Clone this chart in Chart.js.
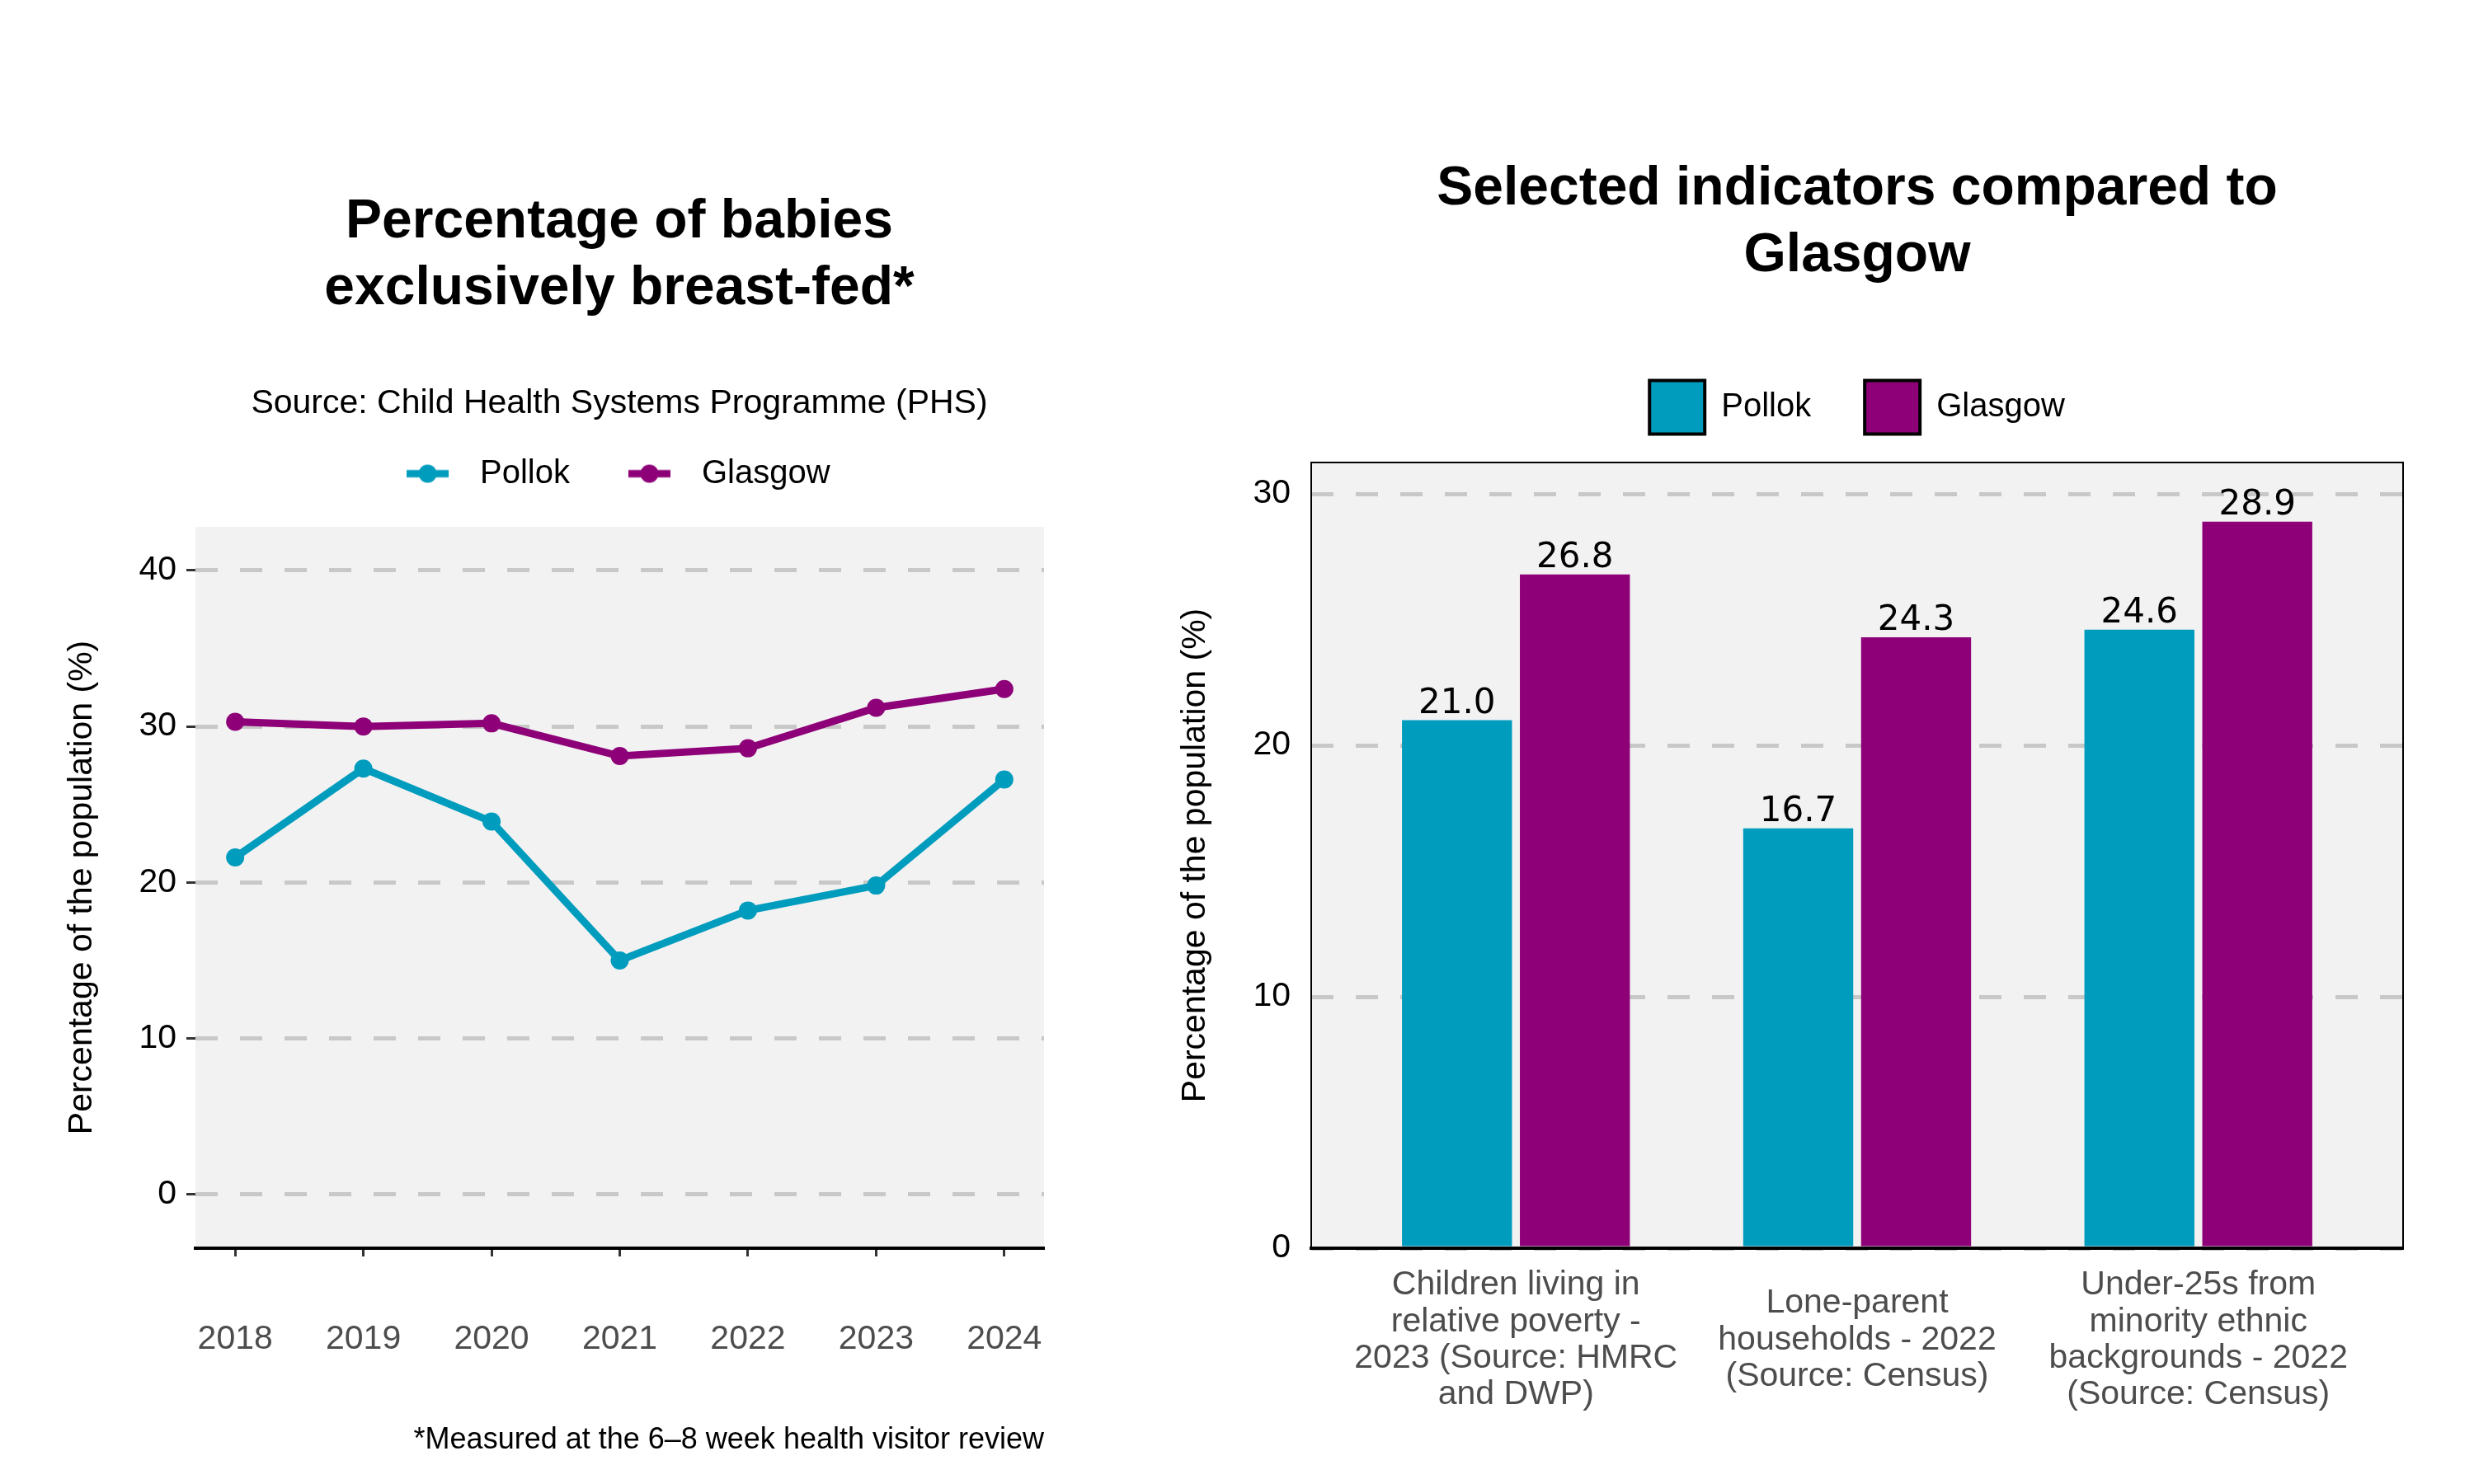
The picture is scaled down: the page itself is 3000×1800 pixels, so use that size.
<!DOCTYPE html>
<html lang="en">
<head>
<meta charset="UTF-8">
<title>Pollok - breast-feeding and selected indicators</title>
<script src="https://cdn.jsdelivr.net/npm/chart.js"></script>
<style>
  html, body { margin: 0; padding: 0; background: #fff; overflow: hidden; }
  body { width: 3000px; height: 1800px; position: relative; }
  canvas { position: absolute; top: 0; }
  #lineChart { left: 0; }
  #barChart { left: 1400px; }
</style>
</head>
<body>
<canvas id="lineChart" width="1502" height="1800"></canvas>
<canvas id="barChart" width="1704" height="1800"></canvas>

<script>
// --- data: breast-feeding line chart ---
const years = [2018, 2019, 2020, 2021, 2022, 2023, 2024];
const pollokFed = [21.6, 27.3, 23.9, 15.0, 18.2, 19.8, 26.6];
const glasgowFed = [30.3, 30.0, 30.2, 28.1, 28.6, 31.2, 32.4];
const fedTicks = [0, 10, 20, 30, 40];

// --- data: indicators bar chart ---
const indicators = [
  ['Children living in', 'relative poverty -', '2023 (Source: HMRC', 'and DWP)'],
  ['Lone-parent', 'households - 2022', '(Source: Census)'],
  ['Under-25s from', 'minority ethnic', 'backgrounds - 2022', '(Source: Census)']
];
const pollokInd = [21.0, 16.7, 24.6];
const glasgowInd = [26.8, 24.3, 28.9];
const indTicks = [0, 10, 20, 30];

const TEAL = '#009CBD';
const PURPLE = '#8E0078';
const GRID = '#c8c8c8';

Chart.defaults.font.family = '"Liberation Sans", Arial, sans-serif';
Chart.defaults.font.size = 41;
Chart.defaults.color = '#000';

// grey panel behind the plot area
const panelBg = {
  id: 'panelBg',
  beforeDraw(chart) {
    const { ctx, chartArea: a } = chart;
    ctx.save();
    ctx.fillStyle = '#f2f2f2';
    ctx.fillRect(a.left, a.top, a.right - a.left, a.bottom - a.top);
    ctx.restore();
  }
};

// empty axis used only to reserve space
function spacer(position, size) {
  return {
    type: 'linear',
    position: position,
    grid: { display: false, drawTicks: false },
    border: { display: false },
    ticks: { display: false },
    afterFit: s => { if (s.isHorizontal()) s.height = size; else s.width = size; }
  };
}

// legend key: short line with a dot in the middle
function lineMarker(color) {
  const c = document.createElement('canvas');
  c.width = 100;
  c.height = 26;
  const g = c.getContext('2d');
  g.strokeStyle = color;
  g.lineWidth = 9;
  g.beginPath();
  g.moveTo(31, 13);
  g.lineTo(82, 13);
  g.stroke();
  g.fillStyle = color;
  g.beginPath();
  g.arc(56.5, 13, 11, 0, Math.PI * 2);
  g.fill();
  return c;
}
const legendMarkers = [lineMarker(TEAL), lineMarker(PURPLE)];

// ---------------- left chart ----------------
new Chart(document.getElementById('lineChart'), {
  type: 'line',
  data: {
    datasets: [
      {
        label: 'Pollok',
        data: years.map((yr, i) => ({ x: yr, y: pollokFed[i] })),
        borderColor: TEAL,
        backgroundColor: TEAL,
        borderWidth: 9,
        pointRadius: 11,
        pointBorderWidth: 0,
        pointBackgroundColor: TEAL,
        tension: 0,
        xAxisID: 'x',
        yAxisID: 'y'
      },
      {
        label: 'Glasgow',
        data: years.map((yr, i) => ({ x: yr, y: glasgowFed[i] })),
        borderColor: PURPLE,
        backgroundColor: PURPLE,
        borderWidth: 9,
        pointRadius: 11,
        pointBorderWidth: 0,
        pointBackgroundColor: PURPLE,
        tension: 0,
        xAxisID: 'x',
        yAxisID: 'y'
      }
    ]
  },
  options: {
    responsive: false,
    devicePixelRatio: 1,
    animation: false,
    layout: { padding: 0, autoPadding: false },
    scales: {
      x: {
        type: 'linear',
        position: 'bottom',
        offset: false,
        min: 2017.69,
        max: 2024.31,
        afterBuildTicks: s => { s.ticks = years.map(v => ({ value: v })); },
        afterFit: s => { s.height = 286; },
        grid: { display: true, drawOnChartArea: false, drawTicks: true, tickLength: 10, tickWidth: 3, tickColor: '#333' },
        border: { display: true, color: '#000', width: 4 },
        ticks: { padding: 76, color: '#4d4d4d', font: { size: 41 }, callback: v => String(v) },
        title: {
          display: true,
          text: '*Measured at the 6\u20138 week health visitor review',
          align: 'end',
          color: '#000',
          font: { size: 36 },
          padding: { top: 0, bottom: 31 }
        }
      },
      y: {
        type: 'linear',
        position: 'left',
        min: -3.45,
        max: 42.8,
        afterBuildTicks: s => { s.ticks = fedTicks.map(v => ({ value: v })); },
        afterFit: s => { s.width = 237; },
        grid: { color: GRID, lineWidth: 5, drawTicks: true, tickLength: 11, tickWidth: 3, tickColor: '#333', tickBorderDash: [] },
        border: { display: false, dash: [27, 27] },
        ticks: { padding: 12, color: '#000', font: { size: 41 } },
        title: {
          display: true,
          text: 'Percentage of the population (%)',
          color: '#000',
          font: { size: 41 },
          padding: { top: 75, bottom: 0 }
        }
      },
      xs: spacer('top', 34.4),
      ys: spacer('right', 236)
    },
    plugins: {
      title: {
        display: true,
        text: ['Percentage of babies', 'exclusively breast-fed*'],
        color: '#000',
        font: { size: 66, weight: 'bold', lineHeight: 1.23 },
        padding: { top: 229.5, bottom: 0 }
      },
      subtitle: {
        display: true,
        text: 'Source: Child Health Systems Programme (PHS)',
        color: '#000',
        font: { size: 41, lineHeight: 1.2 },
        padding: { top: 73.5, bottom: 0 }
      },
      legend: {
        display: true,
        position: 'top',
        align: 'center',
        labels: {
          usePointStyle: true,
          pointStyleWidth: 100,
          padding: 40,
          color: '#000',
          font: { size: 40 },
          // trailing spaces on the last label balance the blank lead-in of the first key
          generateLabels: chart => chart.data.datasets.map((ds, i, all) => ({
            text: i === all.length - 1 ? ds.label + '   ' : ds.label,
            pointStyle: legendMarkers[i],
            fillStyle: ds.borderColor,
            strokeStyle: ds.borderColor,
            lineWidth: 0,
            hidden: false,
            datasetIndex: i,
            fontColor: '#000'
          }))
        }
      },
      tooltip: { enabled: false }
    }
  },
  plugins: [panelBg]
});

// ---------------- right chart ----------------
const barValues = {
  id: 'barValues',
  afterDatasetsDraw(chart) {
    const { ctx, chartArea: a } = chart;
    ctx.save();
    ctx.font = '42px "DejaVu Sans"';
    ctx.fillStyle = '#000';
    ctx.textAlign = 'center';
    ctx.textBaseline = 'alphabetic';
    chart.data.datasets.forEach((ds, di) => {
      chart.getDatasetMeta(di).data.forEach((bar, i) => {
        ctx.fillText(ds.data[i].y.toFixed(1), bar.x, bar.y - 9);
      });
    });
    // panel frame
    ctx.strokeStyle = '#000';
    ctx.lineWidth = 2;
    ctx.strokeRect(a.left, a.top, a.right - a.left, a.bottom - a.top);
    ctx.restore();
  }
};

new Chart(document.getElementById('barChart'), {
  type: 'bar',
  data: {
    datasets: [
      {
        label: 'Pollok',
        data: pollokInd.map((v, i) => ({ x: i, y: v })),
        backgroundColor: TEAL,
        borderWidth: 0,
        categoryPercentage: 0.691,
        barPercentage: 0.933,
        xAxisID: 'x',
        yAxisID: 'y'
      },
      {
        label: 'Glasgow',
        data: glasgowInd.map((v, i) => ({ x: i, y: v })),
        backgroundColor: PURPLE,
        borderWidth: 0,
        categoryPercentage: 0.691,
        barPercentage: 0.933,
        xAxisID: 'x',
        yAxisID: 'y'
      }
    ]
  },
  options: {
    responsive: false,
    devicePixelRatio: 1,
    animation: false,
    layout: { padding: 0, autoPadding: false },
    scales: {
      x: {
        type: 'linear',
        position: 'bottom',
        offset: false,
        min: -0.6,
        max: 2.6,
        afterBuildTicks: s => { s.ticks = indicators.map((_, i) => ({ value: i })); },
        afterFit: s => { s.height = 286; },
        grid: { display: false, drawTicks: false, offset: false },
        border: { display: true, color: '#000', width: 4, z: 1 },
        ticks: {
          padding: 45,
          color: '#4d4d4d',
          crossAlign: 'center',
          font: { size: 41, lineHeight: 1.08 },
          callback: v => indicators[v]
        }
      },
      y: {
        type: 'linear',
        position: 'left',
        min: 0,
        max: 31.25,
        afterBuildTicks: s => { s.ticks = indTicks.map(v => ({ value: v })); },
        afterFit: s => { s.width = 190; },
        grid: { color: GRID, lineWidth: 5, drawTicks: false },
        border: { display: false, dash: [27, 27] },
        ticks: { padding: 25, color: '#000', font: { size: 41 } },
        title: {
          display: true,
          text: 'Percentage of the population (%)',
          color: '#000',
          font: { size: 41 },
          padding: { top: 25, bottom: 0 }
        }
      },
      xs: spacer('top', 24.5),
      ys: spacer('right', 190)
    },
    plugins: {
      title: {
        display: true,
        text: ['Selected indicators compared to', 'Glasgow'],
        color: '#000',
        font: { size: 66, weight: 'bold', lineHeight: 1.23 },
        padding: { top: 189.5, bottom: 44.6 }
      },
      legend: {
        display: true,
        position: 'top',
        align: 'center',
        labels: {
          boxWidth: 67,
          boxHeight: 65,
          padding: 65,
          color: '#000',
          font: { size: 40 },
          generateLabels: chart => chart.data.datasets.map((ds, i) => ({
            text: ds.label,
            fillStyle: ds.backgroundColor,
            strokeStyle: '#000',
            lineWidth: 4,
            hidden: false,
            datasetIndex: i,
            fontColor: '#000'
          }))
        }
      },
      tooltip: { enabled: false }
    }
  },
  plugins: [panelBg, barValues]
});
</script>
</body>
</html>
